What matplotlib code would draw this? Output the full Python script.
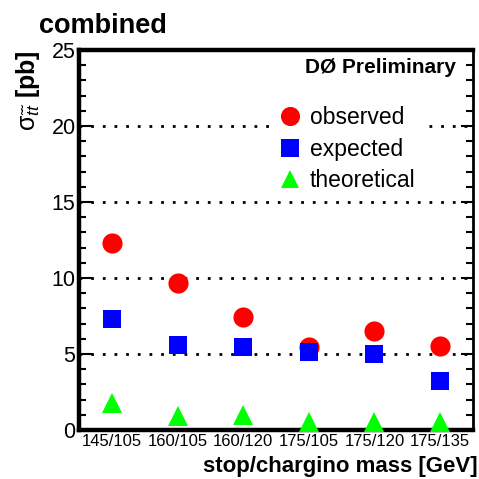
import matplotlib
matplotlib.use("Agg")
import matplotlib.pyplot as plt
from matplotlib.ticker import MultipleLocator
import numpy as np

categories = ["145/105", "160/105", "160/120", "175/105", "175/120", "175/135"]
observed = [12.32, 9.69, 7.46, 5.48, 6.53, 5.55]
expected = [7.28, 5.59, 5.44, 5.13, 4.98, 3.25]
theoretical = [1.78, 0.95, 0.97, 0.52, 0.52, 0.52]

plt.rcParams['font.family'] = ['Liberation Sans', 'DejaVu Sans']
plt.rcParams['mathtext.fontset'] = 'custom'
plt.rcParams['mathtext.rm'] = 'Liberation Sans'
plt.rcParams['mathtext.it'] = 'Liberation Sans:italic'
plt.rcParams['mathtext.bf'] = 'Liberation Sans:bold'

W = 479
fig = plt.figure(figsize=(4.79, 4.79), dpi=100)
ax = fig.add_axes([79/W, 1-430/W, (473-79)/W, (430-50)/W])

x = np.arange(len(categories)) + 0.5
ax.plot(x, observed, 'o', color='#ff0000', markersize=14.5, markeredgewidth=0, label='observed', zorder=3)
ax.plot(x, expected, 's', color='#0000ff', markersize=13, markeredgewidth=0, label='expected', zorder=4)
ax.plot(x, theoretical, '^', color='#00ff00', markersize=14, markeredgewidth=0, label='theoretical', zorder=5, clip_on=False)

ax.set_xlim(0, len(categories))
ax.set_ylim(0, 25)
ax.set_xticks(x)
ax.set_xticklabels(categories, fontsize=12)
ax.tick_params(axis='x', length=0, pad=3)

ax.yaxis.set_major_locator(MultipleLocator(5))
ax.yaxis.set_minor_locator(MultipleLocator(1))
ax.tick_params(axis='y', which='both', direction='in', left=True, right=True, labelsize=15.5, pad=2.5)
ax.tick_params(axis='y', which='major', length=9, width=1.5)
ax.tick_params(axis='y', which='minor', length=5, width=1.5)

for yv in [5, 10, 15, 20]:
    ax.axhline(yv, color='black', linestyle=(0, (1, 3.2)), linewidth=2, zorder=1)

for side in ['left', 'bottom', 'top']:
    ax.spines[side].set_linewidth(3.2)
ax.spines['right'].set_linewidth(2)

leg = ax.legend(loc='upper left', bbox_to_anchor=(272/W, 1-99/W), bbox_transform=fig.transFigure,
                borderaxespad=0, frameon=True, fancybox=False, edgecolor='none', facecolor='white',
                framealpha=1, fontsize=16.5, handlelength=1.0, handletextpad=0.35, borderpad=0.3,
                labelspacing=0.38, markerscale=0.95)
leg.set_zorder(10)

fig.text(39/W, 1-33/W, "combined", fontsize=19.5, fontweight='bold', va='baseline', ha='left')
fig.text(456/W, 1-73/W, "DØ Preliminary", fontsize=15, fontweight='bold', va='baseline', ha='right')
fig.text(478/W, 1-472/W, "stop/chargino mass [GeV]", fontsize=16, fontweight='bold', va='baseline', ha='right')
fig.text(14/W, 1-50/W, r"$\mathrm{\sigma}_{\tilde{t}\tilde{t}}$ [pb]", fontsize=18, fontweight='bold',
         rotation=90, ha='left', va='top')

fig.savefig("out.png", dpi=100)
